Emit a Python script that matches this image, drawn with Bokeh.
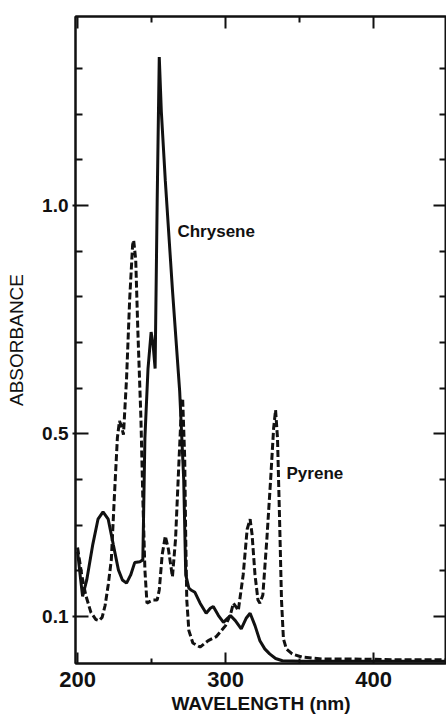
from bokeh.plotting import figure
from bokeh.models import Range1d, LinearAxis, FixedTicker, Label, CustomJSTickFormatter
from bokeh.embed import file_html
from bokeh.resources import INLINE

# ---- data ----
chrysene_nm = [200.0, 202.1, 203.4, 206.2, 210.3, 213.8, 217.2, 220.7, 224.1, 227.6,
               230.3, 233.1, 235.9, 238.6, 242.1, 244.1, 245.5, 247.6, 249.7, 251.0,
               252.4, 253.8, 255.2, 256.6, 259.3, 264.1, 269.0, 271.7, 273.1, 275.2,
               276.6, 279.3, 282.8, 286.9, 289.7, 291.7, 295.2, 298.6, 301.3, 303.3,
               306.6, 310.6, 313.9, 316.6, 319.9, 323.2, 326.5, 329.8, 333.8, 338.4,
               351.7, 371.5, 400.0, 449.0]
chrysene_abs = [0.242, 0.180, 0.144, 0.180, 0.258, 0.313, 0.329, 0.313, 0.258, 0.202,
                0.180, 0.173, 0.191, 0.218, 0.220, 0.224, 0.491, 0.643, 0.723, 0.697,
                0.643, 1.011, 1.325, 1.206, 1.054, 0.816, 0.593, 0.402, 0.191, 0.162,
                0.158, 0.153, 0.129, 0.107, 0.118, 0.122, 0.102, 0.087, 0.096, 0.102,
                0.091, 0.073, 0.096, 0.107, 0.080, 0.047, 0.029, 0.018, 0.008, 0.003,
                0.002, 0.002, 0.002, 0.002]

pyrene_nm = [200.0, 202.8, 205.5, 209.0, 212.4, 214.5, 216.6, 218.6, 220.7, 222.8,
             224.8, 226.9, 228.3, 229.7, 231.0, 233.1, 235.2, 237.2, 237.9, 239.3,
             240.7, 242.8, 244.1, 245.5, 246.9, 249.0, 251.0, 253.8, 255.2, 257.2,
             259.3, 261.4, 264.1, 266.2, 268.3, 270.3, 271.0, 272.4, 273.1, 273.8,
             275.2, 277.9, 282.8, 288.3, 293.8, 300.0, 303.3, 305.3, 307.3, 308.6,
             311.9, 314.6, 316.6, 317.9, 319.9, 321.9, 323.2, 325.2, 327.9, 330.5,
             332.5, 333.8, 335.1, 336.5, 337.8, 339.1, 341.1, 345.0, 351.7, 364.9,
             384.8, 417.9, 449.0]
pyrene_abs = [0.251, 0.191, 0.147, 0.109, 0.093, 0.091, 0.098, 0.124, 0.169, 0.224,
              0.358, 0.491, 0.528, 0.517, 0.498, 0.621, 0.794, 0.914, 0.924, 0.881,
              0.729, 0.535, 0.358, 0.202, 0.129, 0.133, 0.136, 0.136, 0.158, 0.236,
              0.276, 0.247, 0.187, 0.269, 0.424, 0.567, 0.578, 0.447, 0.269, 0.136,
              0.069, 0.042, 0.033, 0.047, 0.056, 0.080, 0.104, 0.129, 0.120, 0.113,
              0.191, 0.291, 0.313, 0.280, 0.191, 0.136, 0.129, 0.147, 0.269, 0.402,
              0.513, 0.552, 0.491, 0.313, 0.136, 0.051, 0.029, 0.018, 0.011, 0.007,
              0.007, 0.005, 0.005]

x_major = [200, 300, 400]
x_minor = [250, 350, 450]
y_major = [0.1, 0.5, 1.0]
y_minor = [0.2, 0.3, 0.4, 0.6, 0.7, 0.8, 0.9, 1.1, 1.2, 1.3]
y_labels = {0.1: "0.1", 0.5: "0.5", 1.0: "1.0"}

FONT = "Liberation Sans"
INK = "#111111"

p = figure(width=446, height=721, output_backend="svg", toolbar_location=None,
           x_range=Range1d(198.6, 449.3), y_range=Range1d(-0.003, 1.414),
           x_axis_location=None, y_axis_location=None,
           min_border_left=75, min_border_right=0, min_border_top=16, min_border_bottom=58)
p.background_fill_color = "white"
p.border_fill_color = "white"
p.grid.visible = False
p.outline_line_color = INK
p.outline_line_width = 2


def style_axis(ax, show_labels):
    ax.axis_line_color = INK
    ax.axis_line_width = 2
    ax.major_tick_line_color = INK
    ax.major_tick_line_width = 2
    ax.minor_tick_line_color = INK
    ax.minor_tick_line_width = 2
    ax.major_tick_in = 13
    ax.major_tick_out = 0
    ax.minor_tick_in = 7
    ax.minor_tick_out = 0
    if not show_labels:
        ax.formatter = CustomJSTickFormatter(code="return '';")
        ax.major_label_text_font_size = "1px"
        ax.major_label_standoff = 0


xt = FixedTicker(ticks=x_major, minor_ticks=x_minor)
yt = FixedTicker(ticks=y_major, minor_ticks=y_minor)

bottom = LinearAxis(ticker=xt, axis_label="WAVELENGTH (nm)")
style_axis(bottom, True)
bottom.major_tick_in = 11
bottom.minor_tick_in = 5
bottom.major_label_standoff = 8
bottom.major_label_text_font = FONT
bottom.major_label_text_font_style = "bold"
bottom.major_label_text_font_size = "22px"
bottom.major_label_text_color = INK
bottom.axis_label_text_font = FONT
bottom.axis_label_text_font_style = "bold"
bottom.axis_label_text_font_size = "19px"
bottom.axis_label_text_color = INK
bottom.axis_label_standoff = 3
p.add_layout(bottom, "below")

top = LinearAxis(ticker=xt)
style_axis(top, False)
top.minor_tick_in = 6
top.major_tick_in = 12
p.add_layout(top, "above")

left = LinearAxis(ticker=yt, axis_label="ABSORBANCE")
style_axis(left, True)
left.major_tick_out = 3
left.major_label_overrides = y_labels
left.major_label_standoff = 4
left.major_label_text_font = FONT
left.major_label_text_font_style = "bold"
left.major_label_text_font_size = "19px"
left.major_label_text_color = INK
left.axis_label_text_font = FONT
left.axis_label_text_font_style = "normal"
left.axis_label_text_font_size = "19px"
left.axis_label_text_color = INK
left.axis_label_standoff = 12
p.add_layout(left, "left")

right = LinearAxis(ticker=yt)
style_axis(right, False)
right.axis_line_color = None
p.add_layout(right, "right")

p.line(chrysene_nm, chrysene_abs, line_color=INK, line_width=3)
p.line(pyrene_nm, pyrene_abs, line_color=INK, line_width=3, line_dash="7 3")

chrysene_label = Label(x=267.5, y=0.943, text="Chrysene", text_font=FONT,
                       text_font_size="17px", text_color=INK, text_baseline="middle",
                       text_font_style="bold")
pyrene_label = Label(x=341.2, y=0.413, text="Pyrene", text_font=FONT,
                     text_font_size="17px", text_color=INK, text_baseline="middle",
                     text_font_style="bold")
p.add_layout(chrysene_label)
p.add_layout(pyrene_label)

open("out.html", "w").write(file_html(p, INLINE))
